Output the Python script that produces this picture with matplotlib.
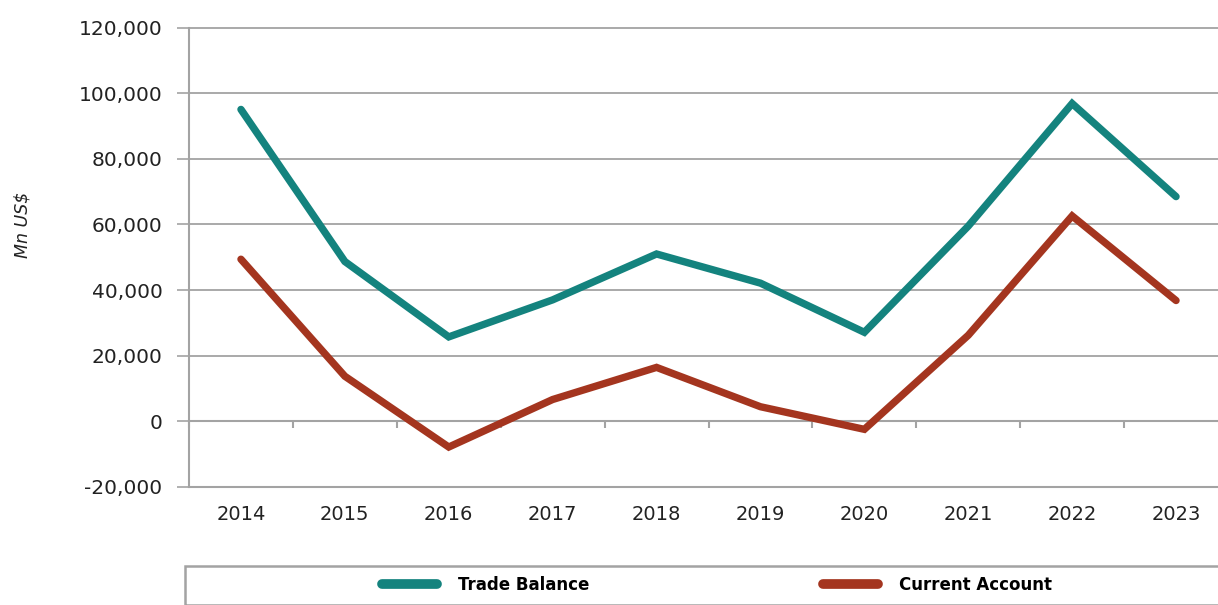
import numpy as np
import matplotlib
matplotlib.use("Agg")
import matplotlib.pyplot as plt
from matplotlib.patches import Rectangle

years = ["2014", "2015", "2016", "2017", "2018", "2019", "2020", "2021", "2022", "2023"]
trade_balance = [95100, 48700, 25700, 37000, 51000, 42100, 27100, 59500, 96900, 68500]
current_account = [49400, 13700, -7900, 6600, 16400, 4400, -2500, 26200, 62600, 36800]
y_ticks = [-20000, 0, 20000, 40000, 60000, 80000, 100000, 120000]

teal = "#14837e"
rust = "#a4351f"
grey = "#a3a3a3"

plt.rcParams["font.family"] = ["DejaVu Sans"]

fig = plt.figure(figsize=(12.18, 6.05), dpi=100)
ax = fig.add_axes([189 / 1218, 1 - 486.7 / 605, 1 - 189 / 1218, (486.7 - 27.8) / 605])

x = np.arange(len(years))
ax.plot(x, trade_balance, color=teal, lw=5.3, solid_capstyle="round", solid_joinstyle="miter", label="Trade Balance", zorder=3)
ax.plot(x, current_account, color=rust, lw=5.3, solid_capstyle="round", solid_joinstyle="miter", label="Current Account", zorder=3)

# category width ~104px, the last category runs off the right edge
ax.set_xlim(-0.5, -0.5 + 1029 / 103.9)
ax.set_ylim(-20000, 120000)

ax.set_yticks(y_ticks)
ax.set_yticklabels([f"{v:,.0f}" for v in y_ticks])
ax.set_xticks(x)
ax.set_xticklabels(years)
ax.tick_params(axis="y", length=9, width=1.2, color=grey, labelsize=14.5, labelcolor="#222222", pad=10)
ax.tick_params(axis="x", length=0, labelsize=14, labelcolor="#222222", pad=13)

ax.grid(axis="y", color=grey, lw=1.3)
ax.grid(axis="x", visible=False)
ax.set_axisbelow(True)
for ln in ax.get_ygridlines():
    ln.set_clip_on(False)

for side in ["top", "right"]:
    ax.spines[side].set_visible(False)
for side in ["left", "bottom"]:
    ax.spines[side].set_color(grey)
    ax.spines[side].set_linewidth(1.5)

# zero line with category-boundary ticks
zero_ax = ax.secondary_xaxis(0, transform=ax.transData)
zero_ax.set_xticks(np.arange(len(years) + 1) - 0.5)
zero_ax.set_xticklabels([])
zero_ax.tick_params(length=5, width=1.5, color=grey, direction="out")
zero_ax.spines["bottom"].set_color(grey)
zero_ax.spines["bottom"].set_linewidth(1.5)

fig.text(22 / 1218, 1 - 225 / 605, "Mn US$", rotation=90, ha="center", va="center",
         fontsize=12.5, style="italic", color="#222222")

# legend box at the bottom
fig.add_artist(Rectangle((185 / 1218, 0), 1.0, 1 - 566 / 605, transform=fig.transFigure,
                         facecolor="none", edgecolor=grey, lw=1.8))
leg = fig.legend(loc="center left", bbox_to_anchor=(382 / 1218, 1 - 585 / 605), ncol=2,
                 frameon=False, borderpad=0, borderaxespad=0, handlelength=3.3,
                 handletextpad=1.26, columnspacing=14.0,
                 prop={"family": ["Liberation Sans Narrow", "DejaVu Sans"], "weight": "bold", "size": 12})
for h in leg.get_lines():
    h.set_linewidth(7)
    h.set_solid_capstyle("round")

fig.savefig("out.png", dpi=100)
